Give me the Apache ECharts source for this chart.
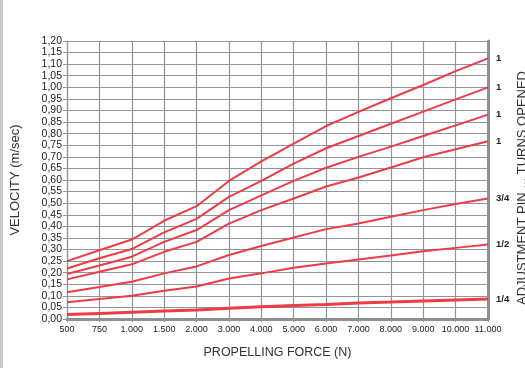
<!DOCTYPE html>
<html><head><meta charset="utf-8">
<script src="https://cdn.jsdelivr.net/npm/echarts@6/dist/echarts.min.js"></script>
<style>html,body{margin:0;padding:0;background:#fff}#c{width:525px;height:368px}</style>
</head><body><div id="c"></div>
<script>
const categories = ['500','750','1.000','1.500','2.000','3.000','4.000','5.000','6.000','7.000','8.000','9.000','10.000','11.000'];
const turns1a = [0.25,0.297,0.343,0.424,0.487,0.596,0.68,0.757,0.833,0.894,0.953,1.01,1.07,1.125];
const turns1b = [0.218,0.262,0.302,0.374,0.432,0.527,0.596,0.671,0.737,0.79,0.843,0.895,0.948,1.0];
const turns1c = [0.194,0.231,0.269,0.333,0.384,0.47,0.534,0.596,0.653,0.70,0.744,0.79,0.836,0.882];
const turns1d = [0.171,0.204,0.236,0.29,0.333,0.412,0.47,0.52,0.572,0.611,0.654,0.698,0.733,0.767];
const turns34 = [0.115,0.138,0.161,0.197,0.227,0.276,0.315,0.352,0.388,0.412,0.441,0.47,0.496,0.52];
const turns12 = [0.072,0.086,0.1,0.122,0.14,0.175,0.197,0.221,0.24,0.257,0.274,0.292,0.307,0.322];
const turns14 = [0.019,0.024,0.029,0.034,0.039,0.046,0.053,0.058,0.063,0.069,0.073,0.078,0.082,0.086];
const endLabels = ['1','1','1','1','3/4','1/2','1/4'];
const seriesData = [turns1a,turns1b,turns1c,turns1d,turns34,turns12,turns14];

const RED = '#ee3b44';
const GRID = '#8f959b';
const BORDER = '#8c9196';
const chart = echarts.init(document.getElementById('c'), null, {renderer:'canvas'});
const series = seriesData.map((d,i)=>({
  type:'line', data:d, symbol:'none', smooth:false,
  lineStyle:{color:RED, width: i===6 ? 3 : 2},
  endLabel:{show:true, formatter:endLabels[i], distance:8, fontSize:9.5, fontWeight:'bold', color:'#222', fontFamily:'Arial'},
  animation:false, z:5
}));
chart.setOption({
  animation:false,
  grid:{left:67, right:37, top:41, bottom:49},
  xAxis:[{
    type:'category', data:categories, boundaryGap:false,
    name:'PROPELLING FORCE (N)', nameLocation:'middle', nameGap:27,
    nameTextStyle:{fontSize:12.5, color:'#333', fontFamily:'Arial'},
    axisLine:{lineStyle:{color:GRID, width:1.5}},
    axisTick:{show:true, inside:false, length:3, lineStyle:{color:GRID}},
    axisLabel:{fontSize:9, color:'#222', margin:6, fontFamily:'Arial', interval:0},
    splitLine:{show:true, lineStyle:{color:GRID, width:1.2}}
  },{
    type:'category', data:categories, boundaryGap:false, position:'top',
    axisLine:{lineStyle:{color:BORDER, width:3}}, axisTick:{show:false}, axisLabel:{show:false}, splitLine:{show:false}
  }],
  yAxis:[{
    type:'value', min:0, max:1.2, interval:0.05,
    name:'VELOCITY (m/sec)', nameLocation:'middle', nameGap:45,
    nameTextStyle:{fontSize:13, color:'#333', fontFamily:'Arial'},
    axisLine:{show:true, lineStyle:{color:GRID, width:1.2}},
    axisTick:{show:true, length:4, lineStyle:{color:GRID}},
    axisLabel:{fontSize:10.5, color:'#222', margin:5, fontFamily:'Arial', formatter:v=>v.toFixed(2).replace('.',',')},
    splitLine:{show:true, lineStyle:{color:GRID, width:1.2}}
  },{
    type:'value', min:0, max:1.2, interval:0.05, position:'right',
    axisLine:{show:true, lineStyle:{color:BORDER, width:3}}, axisTick:{show:false}, axisLabel:{show:false}, splitLine:{show:false}
  }],
  graphic:[
    {type:'rect', left:0, top:0, shape:{width:3, height:368}, style:{fill:'#c8c8c8'}},
    {type:'text', x:522, y:188, rotation:Math.PI/2,
     style:{text:'ADJUSTMENT PIN ... TURNS OPENED', fontSize:13, fill:'#333', fontFamily:'Arial', align:'center', verticalAlign:'middle'}}
  ],
  series:series
});
</script></body></html>
